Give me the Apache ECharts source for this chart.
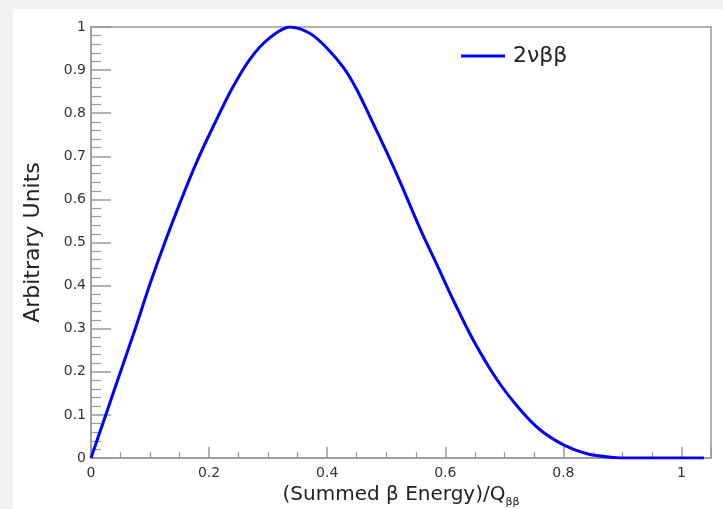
<!DOCTYPE html>
<html>
<head>
<meta charset="utf-8">
<script src="https://cdn.jsdelivr.net/npm/echarts@6/dist/echarts.min.js"></script>
<style>html,body{margin:0;padding:0;background:#fff}#c{width:723px;height:509px}</style>
</head>
<body>
<div id="c"></div>
<script>
var seriesName = '2νββ';
var energyX = [0, 0.025, 0.05, 0.075, 0.099, 0.125, 0.153, 0.18, 0.209, 0.238, 0.269, 0.30, 0.337, 0.371, 0.399, 0.428, 0.450, 0.473, 0.501, 0.524, 0.558, 0.586, 0.614, 0.648, 0.688, 0.727, 0.761, 0.801, 0.840, 0.880, 0.914, 1.038];
var spectrumY = [0, 0.1, 0.2, 0.3, 0.4, 0.5, 0.6, 0.69, 0.775, 0.855, 0.925, 0.972, 1.0, 0.985, 0.952, 0.905, 0.855, 0.790, 0.709, 0.639, 0.530, 0.448, 0.365, 0.272, 0.181, 0.112, 0.065, 0.030, 0.010, 0.002, 0, 0];

var pts = energyX.map(function (x, i) { return [x, spectrumY[i]]; });
var FONT = 'DejaVu Sans';
var chart = echarts.init(document.getElementById('c'), null, {renderer: 'canvas'});
chart.setOption({
  animation: false,
  backgroundColor: '#ffffff',
  graphic: [
    {type: 'rect', shape: {x: 0, y: 0, width: 723, height: 9}, style: {fill: '#f1f1f1'}, z: -10},
    {type: 'rect', shape: {x: 0, y: 0, width: 13, height: 509}, style: {fill: '#f1f1f1'}, z: -10}
  ],
  grid: {left: 91, right: 12, top: 27, bottom: 51, outerBoundsMode: 'none', containLabel: false, show: true, borderColor: '#999', borderWidth: 1.5, backgroundColor: 'transparent'},
  legend: {
    left: 456, top: 40, itemWidth: 44, itemHeight: 3, icon: 'rect', itemGap: 0,
    textStyle: {fontFamily: FONT, fontSize: 22, color: '#222', padding: [0, 0, 0, 3]},
    data: [seriesName]
  },
  xAxis: {
    type: 'value', min: 0, max: 1.05, interval: 0.2,
    name: '(Summed β Energy)/Q{sub|ββ}', nameLocation: 'middle', nameGap: 21,
    nameTextStyle: {fontFamily: FONT, fontSize: 20, color: '#222', verticalAlign: 'top', rich: {sub: {fontFamily: FONT, fontSize: 11, color: '#222', padding: [14, 0, 0, 0]}}},
    axisLine: {lineStyle: {color: '#999', width: 1.5}},
    axisTick: {inside: true, length: 11, lineStyle: {color: '#999', width: 1.5}},
    minorTick: {show: true, splitNumber: 4, length: 6, lineStyle: {color: '#999', width: 1.2}},
    splitLine: {show: false},
    axisLabel: {fontFamily: FONT, fontSize: 14, color: '#333', margin: 8, showMaxLabel: false}
  },
  yAxis: {
    type: 'value', min: 0, max: 1, interval: 0.1,
    name: 'Arbitrary Units', nameLocation: 'middle', nameGap: 47,
    nameTextStyle: {fontFamily: FONT, fontSize: 22, color: '#222'},
    axisLine: {lineStyle: {color: '#999', width: 1.5}},
    axisTick: {inside: true, length: 20, lineStyle: {color: '#999', width: 1.5}},
    minorTick: {show: true, splitNumber: 5, length: 10, lineStyle: {color: '#999', width: 1.2}},
    splitLine: {show: false},
    axisLabel: {fontFamily: FONT, fontSize: 14, color: '#333', margin: 5}
  },
  series: [{
    name: seriesName, type: 'line', data: pts, showSymbol: false, symbol: 'none',
    smooth: 0.3,
    lineStyle: {color: '#0000ff', width: 3}, itemStyle: {color: '#0000ff'}
  }]
});
</script>
</body>
</html>
